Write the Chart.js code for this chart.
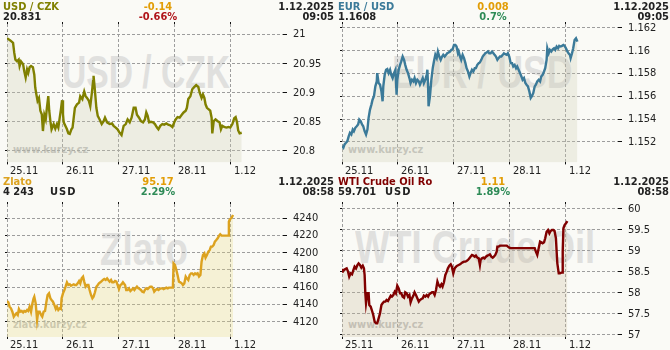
<!DOCTYPE html>
<html><head><meta charset="utf-8">
<script src="https://cdn.jsdelivr.net/npm/chart.js@4.4.1/dist/chart.umd.min.js"></script>
<style>
html,body{margin:0;padding:0;background:#fafaf6;}
#wrap{position:relative;width:670px;height:350px;overflow:hidden;font-family:'DejaVu Sans Condensed','DejaVu Sans',sans-serif;}
.panel{position:absolute;width:335px;height:175px;overflow:hidden;}
.panel canvas{position:absolute;left:0;top:0;}
.wm{position:absolute;white-space:nowrap;font-family:'Liberation Sans Narrow','Liberation Sans',sans-serif;font-weight:bold;font-size:46px;line-height:46px;color:#e0e0de;transform-origin:0 0;}
.site{position:absolute;left:13px;top:144px;white-space:nowrap;font-family:'DejaVu Sans',sans-serif;font-weight:bold;font-size:11px;line-height:11px;color:#c2c2bf;transform-origin:0 0;}
.h{position:absolute;font-size:11px;font-weight:bold;line-height:10px;white-space:nowrap;}
.l1{top:2px}.l2{top:12px}
.mid{left:108px;width:100px;text-align:center;}
.right{right:1px;text-align:right;color:#222;}
.val{left:3px;color:#222;}
.unit{left:50px;color:#222;letter-spacing:1px;}
.chg{color:#e29d06;}
.neg{color:#b0141a;}
.pos{color:#2e8b57;}
</style>
</head><body>
<div id="wrap">
  <div class="panel" id="p1" style="left:0;top:0">
    <div class="wm" data-w="168" style="left:62px;top:49px">USD / CZK</div>
    <div class="site" data-w="75">www.kurzy.cz</div>
    <canvas id="c1" width="335" height="175"></canvas>
    <div class="h l1" style="left:3px;color:#808000">USD / CZK</div>
    <div class="h l2 val">20.831</div>
    <div class="h l1 mid chg">-0.14</div>
    <div class="h l2 mid neg">-0.66%</div>
    <div class="h l1 right">1.12.2025</div>
    <div class="h l2 right">09:05</div>
  </div>
  <div class="panel" id="p2" style="left:335px;top:0">
    <div class="wm" data-w="181" style="left:57px;top:49px">EUR / USD</div>
    <div class="site" data-w="75">www.kurzy.cz</div>
    <canvas id="c2" width="335" height="175"></canvas>
    <div class="h l1" style="left:3px;color:#3b7a99">EUR / USD</div>
    <div class="h l2 val">1.1608</div>
    <div class="h l1 mid chg">0.008</div>
    <div class="h l2 mid pos">0.7%</div>
    <div class="h l1 right">1.12.2025</div>
    <div class="h l2 right">09:05</div>
  </div>
  <div class="panel" id="p3" style="left:0;top:175px">
    <div class="wm" data-w="88" style="left:100px;top:51px">Zlato</div>
    <div class="site" data-w="74">zlato.kurzy.cz</div>
    <canvas id="c3" width="335" height="175"></canvas>
    <div class="h l1" style="left:3px;color:#dca21f">Zlato</div>
    <div class="h l2 val">4 243</div>
    <div class="h l2 unit">USD</div>
    <div class="h l1 mid chg">95.17</div>
    <div class="h l2 mid pos">2.29%</div>
    <div class="h l1 right">1.12.2025</div>
    <div class="h l2 right">08:58</div>
  </div>
  <div class="panel" id="p4" style="left:335px;top:175px">
    <div class="wm" data-w="240" style="left:20px;top:49px">WTI Crude Oil</div>
    <div class="site" data-w="75">www.kurzy.cz</div>
    <canvas id="c4" width="335" height="175"></canvas>
    <div class="h l1" style="left:3px;color:#800000">WTI Crude Oil Ro</div>
    <div class="h l2 val">59.701</div>
    <div class="h l2 unit">USD</div>
    <div class="h l1 mid chg">1.11</div>
    <div class="h l2 mid pos">1.89%</div>
    <div class="h l1 right">1.12.2025</div>
    <div class="h l2 right">08:58</div>
  </div>
</div>
<script>
// ---- data: [hours since 25.11 on the chart's time axis, value] ----
const dayLabels = ['25.11', '26.11', '27.11', '28.11', '1.12'];
const dayHours = [0, 24, 48, 72, 96];

const usdCzkTicks = [20.8, 20.85, 20.9, 20.95, 21];
const eurUsdTicks = [1.152, 1.154, 1.156, 1.158, 1.16, 1.162];
const goldTicks = [4120, 4140, 4160, 4180, 4200, 4220, 4240];
const wtiTicks = [57, 57.5, 58, 58.5, 59, 59.5, 60];

const usdCzkSeries = [[0,20.994],[1.4,20.990],[2.6,20.986],[3.1,20.969],[3.6,20.957],[4.3,20.954],[5.0,20.957],[5.4,20.946],[6.0,20.954],[6.9,20.949],[7.4,20.937],[8.0,20.926],[8.6,20.940],[9.1,20.934],[9.7,20.944],[10.3,20.946],[11.1,20.944],[11.7,20.931],[12.1,20.909],[12.6,20.897],[13.1,20.886],[13.7,20.891],[14.3,20.869],[14.9,20.863],[15.4,20.834],[16.0,20.862],[16.6,20.854],[17.1,20.874],[17.7,20.894],[18.1,20.869],[18.6,20.851],[19.1,20.837],[20.0,20.846],[20.7,20.838],[21.4,20.846],[22.0,20.840],[22.6,20.857],[23.1,20.871],[23.6,20.887],[24.0,20.863],[24.3,20.849],[25.0,20.843],[25.7,20.837],[26.3,20.830],[26.9,20.829],[27.6,20.837],[28.1,20.840],[28.6,20.857],[29.1,20.874],[30.0,20.880],[30.9,20.883],[31.4,20.894],[32.3,20.889],[33.1,20.902],[33.7,20.894],[34.3,20.891],[35.1,20.886],[35.7,20.877],[36.3,20.897],[36.9,20.920],[37.1,20.929],[37.7,20.903],[38.3,20.874],[38.9,20.860],[39.7,20.854],[40.6,20.846],[41.4,20.851],[42.0,20.857],[42.9,20.849],[44.0,20.846],[45.0,20.847],[45.7,20.843],[46.6,20.840],[47.4,20.837],[48.3,20.831],[49.1,20.827],[50.0,20.843],[50.9,20.846],[51.7,20.854],[52.6,20.849],[53.4,20.857],[54.3,20.874],[55.1,20.874],[55.7,20.862],[56.6,20.857],[57.4,20.851],[58.3,20.849],[59.1,20.854],[59.7,20.866],[60.3,20.860],[60.9,20.849],[61.7,20.850],[62.6,20.849],[63.4,20.846],[64.3,20.840],[64.9,20.837],[65.7,20.843],[66.6,20.846],[67.4,20.845],[68.3,20.847],[69.1,20.845],[70.0,20.844],[70.9,20.841],[71.7,20.849],[72.3,20.854],[73.1,20.858],[74.0,20.857],[74.9,20.862],[75.7,20.866],[76.6,20.869],[77.1,20.874],[77.7,20.889],[78.6,20.894],[79.4,20.906],[80.3,20.910],[81.1,20.913],[82.0,20.910],[82.6,20.900],[83.4,20.891],[84.0,20.897],[84.6,20.891],[85.1,20.880],[85.7,20.874],[86.6,20.871],[87.1,20.869],[87.7,20.857],[88.0,20.830],[88.6,20.851],[89.4,20.854],[90.3,20.851],[91.1,20.849],[91.7,20.837],[92.3,20.843],[93.1,20.841],[94.0,20.840],[94.9,20.841],[95.7,20.840],[96.6,20.846],[97.4,20.856],[98.0,20.858],[98.6,20.849],[99.1,20.835],[99.7,20.830],[100.6,20.831]];

const eurUsdSeries = [[0,1.15162],[0.6,1.15148],[1.1,1.15177],[1.7,1.15191],[2.3,1.15206],[2.9,1.15250],[3.4,1.15279],[4.0,1.15264],[4.6,1.15308],[5.1,1.15293],[5.7,1.15323],[6.3,1.15337],[6.9,1.15352],[7.4,1.15395],[8.0,1.15381],[8.6,1.15352],[9.1,1.15337],[9.7,1.15293],[10.3,1.15264],[10.9,1.15308],[11.4,1.15410],[12.0,1.15483],[12.6,1.15527],[13.1,1.15570],[13.7,1.15600],[14.3,1.15687],[14.9,1.15731],[15.1,1.15804],[15.7,1.15716],[16.3,1.15702],[16.9,1.15643],[17.4,1.15556],[17.7,1.15687],[18.3,1.15789],[18.9,1.15833],[19.4,1.15839],[20.0,1.15804],[20.6,1.15833],[21.1,1.15789],[21.7,1.15760],[22.3,1.15804],[22.9,1.15833],[23.4,1.15614],[23.7,1.15745],[24.3,1.15833],[24.9,1.15876],[25.4,1.15906],[26.0,1.15949],[26.6,1.15920],[27.1,1.15876],[27.7,1.15833],[28.3,1.15804],[28.9,1.15760],[29.4,1.15716],[30.0,1.15745],[30.6,1.15731],[31.1,1.15760],[31.7,1.15716],[32.3,1.15745],[32.9,1.15731],[33.4,1.15702],[34.0,1.15731],[34.6,1.15760],[35.1,1.15716],[35.7,1.15745],[36.3,1.15789],[36.6,1.15833],[36.9,1.15687],[37.1,1.15512],[37.7,1.15600],[38.3,1.15745],[38.9,1.15847],[39.4,1.15906],[40.0,1.15964],[40.6,1.15935],[41.1,1.15993],[41.7,1.15949],[42.3,1.15920],[42.9,1.15949],[43.4,1.15964],[44.0,1.15949],[44.6,1.15964],[45.1,1.15978],[45.7,1.15984],[46.3,1.15993],[46.9,1.16008],[47.4,1.16013],[48.0,1.16051],[48.6,1.16051],[49.1,1.16037],[49.7,1.15978],[50.0,1.15993],[50.6,1.15949],[51.1,1.15920],[51.7,1.15964],[52.3,1.15935],[52.9,1.15891],[53.4,1.15847],[54.0,1.15818],[54.6,1.15774],[55.1,1.15804],[55.7,1.15833],[56.3,1.15818],[56.9,1.15847],[57.4,1.15847],[58.0,1.15876],[58.6,1.15891],[59.1,1.15897],[59.7,1.15920],[60.3,1.15949],[60.9,1.15964],[61.4,1.15978],[62.0,1.15984],[62.6,1.15993],[63.1,1.15978],[63.7,1.15978],[64.3,1.15993],[64.9,1.15978],[65.4,1.15964],[66.0,1.15949],[66.6,1.15920],[67.1,1.15935],[67.7,1.15949],[68.3,1.15949],[68.9,1.15964],[69.4,1.15978],[70.0,1.15970],[70.6,1.15964],[71.1,1.15978],[71.7,1.15949],[72.3,1.15891],[72.9,1.15891],[73.4,1.15862],[74.0,1.15876],[74.6,1.15847],[75.1,1.15862],[75.7,1.15833],[76.3,1.15804],[76.9,1.15774],[77.4,1.15745],[78.0,1.15760],[78.6,1.15716],[79.1,1.15702],[79.7,1.15687],[80.3,1.15643],[80.9,1.15585],[81.4,1.15600],[82.0,1.15629],[82.6,1.15687],[83.1,1.15702],[83.7,1.15731],[84.3,1.15745],[84.9,1.15731],[85.4,1.15774],[86.0,1.15789],[86.6,1.15818],[87.1,1.15847],[87.7,1.15920],[88.0,1.16022],[88.6,1.15978],[89.1,1.16008],[89.7,1.15993],[90.3,1.16013],[90.9,1.16022],[91.4,1.16008],[92.0,1.16037],[92.6,1.16022],[93.1,1.16043],[93.7,1.16037],[94.3,1.16043],[94.9,1.16051],[95.4,1.16043],[96.0,1.16022],[96.6,1.15993],[97.1,1.15978],[97.7,1.15964],[98.0,1.15935],[98.6,1.15978],[99.1,1.16022],[99.7,1.16095],[100.3,1.16110],[100.9,1.16080]];

const goldSeries = [[0,4144.0],[0.6,4142.4],[1.1,4137.4],[1.7,4135.5],[2.3,4131.6],[2.9,4125.8],[3.4,4127.7],[4.0,4129.7],[4.6,4127.7],[5.1,4134.7],[5.7,4131.6],[6.3,4132.4],[6.9,4130.8],[7.4,4132.4],[8.0,4131.6],[8.6,4133.5],[9.1,4132.4],[9.7,4137.4],[10.3,4131.6],[10.9,4141.3],[11.4,4147.1],[11.7,4149.0],[12.3,4141.3],[12.9,4121.9],[13.4,4131.6],[14.0,4131.6],[14.6,4127.7],[15.1,4125.8],[15.7,4131.6],[16.3,4132.4],[16.9,4143.2],[17.4,4151.0],[18.0,4152.9],[18.6,4147.1],[19.1,4145.2],[19.7,4143.2],[20.3,4139.4],[20.9,4134.7],[21.4,4137.4],[22.0,4133.5],[22.6,4135.5],[23.1,4134.7],[23.4,4147.1],[24.0,4152.9],[24.6,4156.8],[25.1,4160.6],[25.7,4165.7],[26.3,4162.6],[26.9,4163.4],[27.4,4161.8],[28.0,4162.6],[28.6,4163.4],[29.1,4162.6],[29.7,4162.6],[30.3,4164.5],[30.9,4167.2],[31.4,4164.5],[32.0,4170.3],[32.6,4172.3],[33.1,4166.5],[33.7,4160.6],[34.3,4162.6],[34.9,4162.6],[35.4,4156.8],[36.0,4151.0],[36.6,4147.1],[37.1,4149.0],[37.7,4154.1],[38.3,4160.6],[38.9,4162.6],[39.4,4164.5],[40.0,4165.7],[40.6,4167.2],[41.1,4168.4],[41.7,4169.5],[42.3,4168.4],[42.9,4170.3],[43.4,4168.4],[44.0,4166.5],[44.6,4168.4],[45.1,4165.7],[45.7,4165.7],[46.3,4167.2],[46.9,4166.5],[47.4,4162.6],[48.0,4157.9],[48.6,4162.6],[49.1,4163.4],[49.7,4165.7],[50.6,4162.6],[51.1,4156.8],[51.7,4156.8],[52.3,4158.7],[52.9,4155.6],[53.4,4156.8],[54.0,4158.7],[54.6,4156.8],[55.1,4158.7],[55.7,4160.6],[56.3,4158.7],[56.9,4157.9],[57.4,4156.8],[58.0,4154.8],[58.6,4154.1],[59.1,4156.8],[59.7,4158.7],[60.3,4157.9],[60.9,4159.5],[61.4,4160.6],[62.0,4160.6],[62.6,4158.7],[63.1,4154.8],[63.7,4156.8],[64.3,4157.9],[64.9,4156.8],[65.4,4157.9],[66.0,4158.7],[66.6,4158.7],[67.1,4157.9],[67.7,4158.7],[68.3,4159.5],[68.9,4158.7],[69.4,4159.5],[70.0,4159.5],[70.6,4159.5],[71.1,4159.5],[71.4,4187.7],[72.0,4185.8],[72.6,4180.0],[73.1,4174.2],[73.7,4166.5],[74.3,4165.7],[74.9,4164.5],[75.4,4162.6],[76.0,4164.5],[76.6,4172.3],[77.1,4170.3],[77.7,4168.4],[78.3,4174.2],[78.9,4176.1],[79.4,4176.1],[80.0,4174.2],[80.6,4176.1],[81.1,4175.0],[81.7,4176.1],[82.3,4172.3],[82.9,4174.2],[83.4,4189.7],[84.0,4197.4],[84.6,4199.4],[85.1,4194.3],[85.7,4197.4],[86.3,4201.3],[86.9,4203.2],[87.4,4207.1],[88.0,4207.1],[88.6,4209.0],[89.1,4212.9],[89.7,4214.8],[90.3,4216.8],[90.9,4219.9],[91.4,4221.4],[92.0,4219.9],[92.6,4219.9],[93.1,4219.9],[93.7,4219.9],[94.3,4219.9],[94.9,4219.9],[95.1,4236.1],[95.4,4238.1],[95.7,4239.2],[96.3,4240.8],[96.9,4243.9]];

const wtiSeries = [[0,58.508],[0.3,58.548],[0.9,58.548],[1.4,58.571],[2.0,58.587],[2.6,58.508],[3.1,58.389],[3.7,58.468],[4.3,58.444],[4.9,58.548],[5.4,58.627],[6.0,58.587],[6.6,58.667],[7.1,58.706],[7.7,58.667],[8.3,58.603],[8.9,58.651],[9.4,58.587],[9.7,58.429],[10.0,57.992],[10.3,57.754],[10.9,57.992],[11.4,57.992],[11.7,57.714],[12.3,57.675],[12.9,57.571],[13.4,57.476],[14.0,57.317],[14.6,57.278],[15.1,57.278],[15.7,57.397],[16.3,57.516],[16.9,57.714],[17.4,57.754],[18.0,57.794],[18.6,57.794],[19.1,57.833],[19.7,57.810],[20.3,57.873],[20.9,57.937],[21.4,57.913],[22.0,57.952],[22.6,58.032],[23.1,57.992],[23.7,58.175],[24.3,58.111],[24.9,57.992],[25.4,57.992],[26.0,57.913],[26.6,57.889],[27.1,58.016],[27.7,57.992],[28.3,57.913],[28.9,57.952],[29.4,57.778],[30.0,57.873],[30.6,57.937],[31.1,58.016],[31.7,57.952],[32.3,57.873],[32.9,57.794],[33.4,57.833],[34.0,57.857],[34.6,57.873],[35.1,57.937],[35.7,57.913],[36.3,57.952],[36.9,57.913],[37.4,57.968],[38.0,57.992],[38.6,58.016],[39.1,58.016],[39.7,57.952],[40.3,58.071],[40.9,58.270],[41.4,58.190],[42.0,58.151],[42.6,58.206],[43.1,58.151],[43.7,58.254],[44.3,58.429],[44.9,58.508],[45.4,58.587],[46.0,58.651],[46.6,58.683],[47.1,58.627],[47.7,58.468],[48.3,58.587],[48.9,58.627],[49.4,58.651],[50.0,58.667],[50.6,58.683],[51.1,58.706],[51.7,58.730],[52.3,58.746],[52.9,58.746],[53.4,58.762],[54.0,58.786],[54.6,58.825],[55.1,58.865],[55.7,58.905],[56.3,58.889],[56.9,58.865],[57.4,58.889],[58.0,58.841],[58.6,58.825],[59.1,58.667],[59.4,58.786],[60.0,58.825],[60.6,58.841],[61.1,58.825],[61.7,58.865],[62.3,58.889],[62.9,58.905],[63.4,58.921],[64.0,58.865],[64.6,58.841],[65.1,58.865],[65.7,58.905],[66.3,58.984],[66.6,59.103],[67.1,59.103],[67.7,59.127],[68.3,59.127],[69.4,59.127],[70.6,59.127],[71.1,59.103],[71.7,59.079],[72.3,59.068],[77.1,59.068],[82.6,59.068],[83.1,58.984],[83.7,58.905],[84.3,59.063],[84.9,59.222],[85.4,59.206],[86.0,59.183],[86.6,59.206],[87.1,59.302],[87.7,59.460],[88.3,59.500],[88.9,59.421],[89.4,59.476],[90.0,59.500],[90.6,59.500],[91.1,59.476],[91.7,59.302],[92.0,58.984],[92.3,58.706],[92.9,58.468],[93.4,58.468],[94.0,58.484],[94.3,58.484],[94.6,58.984],[94.9,59.540],[95.4,59.619],[96.0,59.659],[96.6,59.714]];

// ---- rendering ----
const FONT = "'DejaVu Sans Condensed','DejaVu Sans',sans-serif";

function makeChart(id, series, ticks, yMin, yMax, lineColor, fillColor, topPad, xAxisH) {
  const dash = [3, 2];
  const tickFont = { family: FONT, size: 11 };
  new Chart(document.getElementById(id), {
    type: 'line',
    data: { datasets: [{
      data: series.map(([x, y]) => ({ x, y })),
      borderColor: lineColor, backgroundColor: fillColor, fill: 'start',
      borderWidth: 2.4, pointRadius: 0, tension: 0, xAxisID: 'x', yAxisID: 'y'
    }]},
    options: {
      responsive: false, animation: false, events: [],
      layout: { padding: { left: 5, top: topPad - 2, right: 0, bottom: 0 } },
      plugins: { legend: { display: false }, tooltip: { enabled: false } },
      scales: {
        x: {
          type: 'linear', position: 'bottom', min: 0, max: 118.3,
          afterBuildTicks: s => { s.ticks = dayHours.map(v => ({ value: v })); },
          afterFit: s => { s.height = xAxisH; },
          ticks: { callback: v => dayLabels[dayHours.indexOf(v)], align: 'start', labelOffset: 3, padding: 0,
                   maxRotation: 0, autoSkip: false, color: '#222', font: tickFont },
          grid: { color: '#9d9d9d', tickColor: '#111', tickLength: 2, lineWidth: 1 },
          border: { display: false, dash: dash }
        },
        xTop: {
          type: 'linear', position: 'top', min: 0, max: 118.3,
          afterBuildTicks: s => { s.ticks = dayHours.map(v => ({ value: v })); },
          afterFit: s => { s.height = 2; },
          ticks: { display: false },
          grid: { drawOnChartArea: false, tickColor: '#111', tickLength: 2 },
          border: { display: false }
        },
        y: {
          type: 'linear', position: 'right', min: yMin, max: yMax,
          afterBuildTicks: s => { s.ticks = ticks.map(v => ({ value: v })); },
          afterFit: s => { s.width = 52; },
          ticks: { callback: v => String(v), padding: 6, crossAlign: 'near', color: '#222', font: tickFont },
          grid: { color: '#9d9d9d', tickColor: '#111', tickLength: 4, lineWidth: 1 },
          border: { display: false, dash: dash }
        },
        yLeft: {
          type: 'linear', position: 'left', min: yMin, max: yMax,
          afterBuildTicks: s => { s.ticks = ticks.map(v => ({ value: v })); },
          afterFit: s => { s.width = 2; },
          ticks: { display: false },
          grid: { drawOnChartArea: false, tickColor: '#111', tickLength: 2 },
          border: { display: false }
        }
      }
    }
  });
}

// fit watermark widths
document.querySelectorAll('.wm, .site').forEach(el => {
  const w = +el.dataset.w, nat = el.offsetWidth;
  if (nat > 0) el.style.transform = 'scaleX(' + (w / nat) + ')';
});

makeChart('c1', usdCzkSeries, usdCzkTicks, 20.780, 21.0183, '#808000', 'rgba(205,205,175,0.28)', 24, 12);
makeChart('c2', eurUsdSeries, eurUsdTicks, 1.15019, 1.16235, '#3b7a99', 'rgba(205,205,175,0.28)', 24, 12);
makeChart('c3', goldSeries, goldTicks, 4102.2, 4256.6, '#dca21f', 'rgba(232,220,130,0.28)', 29, 13);
makeChart('c4', wtiSeries, wtiTicks, 56.952, 60.119, '#800000', 'rgba(200,188,155,0.28)', 29, 13);
</script>
</body></html>
